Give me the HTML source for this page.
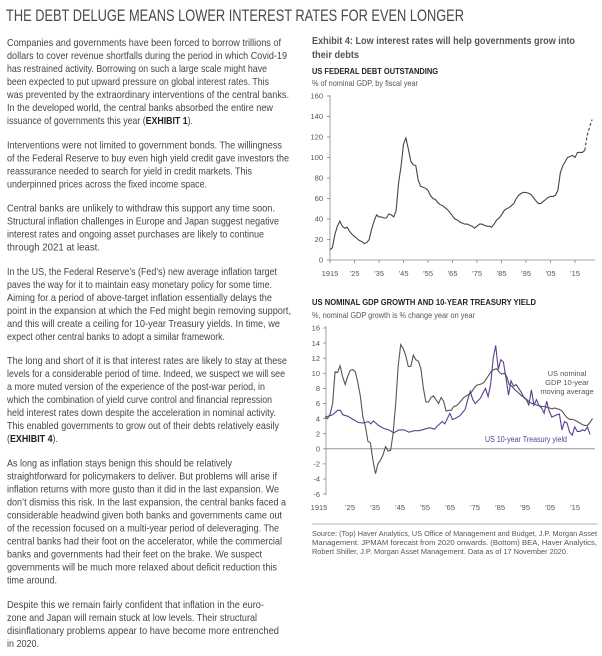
<!DOCTYPE html>
<html><head><meta charset="utf-8"><style>
html,body{margin:0;padding:0;background:#fff;width:602px;height:656px;overflow:hidden}
svg{display:block}
.b{font-family:"Liberation Sans",sans-serif;font-size:10.5px;fill:#454545}
.ax{font-family:"Liberation Sans",sans-serif;font-size:7.5px;fill:#555}
</style></head><body>
<svg width="602" height="656" xmlns="http://www.w3.org/2000/svg">
<text x="6" y="21" font-family="Liberation Sans,sans-serif" font-size="16.5" fill="#4a4a4a" textLength="458" lengthAdjust="spacingAndGlyphs">THE DEBT DELUGE MEANS LOWER INTEREST RATES FOR EVEN LONGER</text>
<g class="b" id="body"></g>
<text x="312" y="44" font-family="Liberation Sans,sans-serif" font-size="10.5" font-weight="bold" fill="#555" textLength="263" lengthAdjust="spacingAndGlyphs">Exhibit 4: Low interest rates will help governments grow into</text>
<text x="312" y="58" font-family="Liberation Sans,sans-serif" font-size="10.5" font-weight="bold" fill="#555" textLength="47" lengthAdjust="spacingAndGlyphs">their debts</text>
<text x="312" y="74" font-family="Liberation Sans,sans-serif" font-size="8" font-weight="bold" fill="#222" textLength="126" lengthAdjust="spacingAndGlyphs">US FEDERAL DEBT OUTSTANDING</text>
<text x="312" y="86" font-family="Liberation Sans,sans-serif" font-size="8" fill="#555" textLength="106" lengthAdjust="spacingAndGlyphs">% of nominal GDP, by fiscal year</text>
<g id="c1"></g>
<text x="312" y="305" font-family="Liberation Sans,sans-serif" font-size="8" font-weight="bold" fill="#222" textLength="224" lengthAdjust="spacingAndGlyphs">US NOMINAL GDP GROWTH AND 10-YEAR TREASURY YIELD</text>
<text x="312" y="318" font-family="Liberation Sans,sans-serif" font-size="8" fill="#555" textLength="163" lengthAdjust="spacingAndGlyphs">%, nominal GDP growth is % change year on year</text>
<g id="c2"></g>
<text x="567" y="376" class="ax" font-size="8" text-anchor="middle" fill="#555">US nominal</text>
<text x="567" y="385" class="ax" font-size="8" text-anchor="middle" fill="#555">GDP 10-year</text>
<text x="567" y="394" class="ax" font-size="8" text-anchor="middle" fill="#555">moving average</text>
<text x="485" y="442" font-family="Liberation Sans,sans-serif" font-size="8" fill="#5b3f8f" textLength="82" lengthAdjust="spacingAndGlyphs">US 10-year Treasury yield</text>
<line x1="312" y1="524" x2="597" y2="524" stroke="#999" stroke-width="0.8"/>
<text x="312" y="536" font-family="Liberation Sans,sans-serif" font-size="7.3" fill="#555" textLength="285" lengthAdjust="spacingAndGlyphs">Source: (Top) Haver Analytics, US Office of Management and Budget, J.P. Morgan Asset</text>
<text x="312" y="545" font-family="Liberation Sans,sans-serif" font-size="7.3" fill="#555" textLength="285" lengthAdjust="spacingAndGlyphs">Management. JPMAM forecast from 2020 onwards. (Bottom) BEA, Haver Analytics,</text>
<text x="312" y="554" font-family="Liberation Sans,sans-serif" font-size="7.3" fill="#555" textLength="256" lengthAdjust="spacingAndGlyphs">Robert Shiller, J.P. Morgan Asset Management. Data as of 17 November 2020.</text>
</svg>
<script>
var NS="http://www.w3.org/2000/svg";
function el(p,t,a,txt){var e=document.createElementNS(NS,t);for(var k in a)e.setAttribute(k,a[k]);if(txt!=null)e.textContent=txt;p.appendChild(e);return e;}
var paras=[
[["Companies and governments have been forced to borrow trillions of",281],["dollars to cover revenue shortfalls during the period in which Covid-19",287],["has restrained activity. Borrowing on such a large scale might have",267],["been expected to put upward pressure on global interest rates. This",269],["was prevented by the extraordinary interventions of the central banks.",289],["In the developed world, the central banks absorbed the entire new",273],["issuance of governments this year (<b>EXHIBIT 1</b>).",193]],
[["Interventions were not limited to government bonds. The willingness",282],["of the Federal Reserve to buy even high yield credit gave investors the",289],["reassurance needed to search for yield in credit markets. This",252],["underpinned prices across the fixed income space.",207]],
[["Central banks are unlikely to withdraw this support any time soon.",275],["Structural inflation challenges in Europe and Japan suggest negative",279],["interest rates and ongoing asset purchases are likely to continue",264],["through 2021 at least.",100]],
[["In the US, the Federal Reserve\u2019s (Fed\u2019s) new average inflation target",277],["paves the way for it to maintain easy monetary policy for some time.",272],["Aiming for a period of above-target inflation essentially delays the",272],["point in the expansion at which the Fed might begin removing support,",291],["and this will create a ceiling for 10-year Treasury yields. In time, we",280],["expect other central banks to adopt a similar framework.",225]],
[["The long and short of it is that interest rates are likely to stay at these",287],["levels for a considerable period of time. Indeed, we suspect we will see",285],["a more muted version of the experience of the post-war period, in",265],["which the combination of yield curve control and financial repression",272],["held interest rates down despite the acceleration in nominal activity.",276],["This enabled governments to grow out of their debts relatively easily",279],["(<b>EXHIBIT 4</b>).",58]],
[["As long as inflation stays benign this should be relatively",232],["straightforward for policymakers to deliver. But problems will arise if",277],["inflation returns with more gusto than it did in the last expansion. We",279],["don\u2019t dismiss this risk. In the last expansion, the central banks faced a",286],["considerable headwind given both banks and governments came out",282],["of the recession focused on a multi-year period of deleveraging. The",279],["central banks had their foot on the accelerator, while the commercial",282],["banks and governments had their feet on the brake. We suspect",262],["governments will be much more relaxed about deficit reduction this",277],["time around.",57]],
[["Despite this we remain fairly confident that inflation in the euro-",264],["zone and Japan will remain stuck at low levels. Their structural",257],["disinflationary problems appear to have become more entrenched",279],["in 2020.",39]]];
var g=document.getElementById("body"),y=46;
paras.forEach(function(p,i){if(i>0)y+=11.3;p.forEach(function(l){
var t=el(g,"text",{x:7,y:y.toFixed(1),textLength:l[1]-7,lengthAdjust:"spacingAndGlyphs"});
var parts=l[0].split(/<b>|<\/b>/);parts.forEach(function(s,j){el(t,"tspan",j==1?{"font-weight":"bold",fill:"#222"}:{},s);});
y+=13;});});
var c1=document.getElementById("c1");
function X1(yr){return 330+(yr-1915)*2.45;}function Y1(v){return 260-v*1.025;}
el(c1,"line",{x1:330,y1:95,x2:330,y2:263,stroke:"#888","stroke-width":0.8});
el(c1,"line",{x1:330,y1:260,x2:595,y2:260,stroke:"#888","stroke-width":0.8});
for(var v=0;v<=160;v+=20){el(c1,"line",{x1:327,y1:Y1(v),x2:330,y2:Y1(v),stroke:"#888","stroke-width":0.8});
el(c1,"text",{x:323,y:Y1(v)+2.7,"text-anchor":"end",class:"ax"},v);}
var lab=["1915","'25","'35","'45","'55","'65","'75","'85","'95","'05","'15"];
lab.forEach(function(s,i){var x=X1(1915+i*10);el(c1,"line",{x1:x,y1:260,x2:x,y2:263,stroke:"#888","stroke-width":0.8});el(c1,"text",{x:x,y:276,"text-anchor":"middle",class:"ax"},s.replace("'","\u2019"));});
var debt=[10,12,25,33,38,33,31,32,28,25,23,21,19,18,16,17,20,30,38,44,42,42,41,41,45,44,42,48,75,92,113,119,108,96,93,92,78,72,71,70,68,63,60,59,56,54,53,51,49,46,43,40,39,37,36,35,35,34,33,31,33,35,35,34,33,33,32,35,39,41,44,48,50,51,53,55,60,63,65,66,66,65,64,61,58,55,55,57,59,61,62,62,63,68,85,92,96,100,101,102,100,105,105,105,107];
var d="";debt.forEach(function(v,i){d+=(i?"L":"M")+X1(1915+i).toFixed(1)+","+Y1(v).toFixed(1);});
el(c1,"path",{d:d,fill:"none",stroke:"#444","stroke-width":1.1});
el(c1,"path",{d:"M"+X1(2019)+","+Y1(107)+"L"+X1(2020)+","+Y1(122)+"L"+X1(2021)+","+Y1(130)+"L"+X1(2022)+","+Y1(137),fill:"none",stroke:"#444","stroke-width":1.1,"stroke-dasharray":"3,2"});
var c2=document.getElementById("c2");
function X2(yr){return 325+(yr-1915)*2.5;}function Y2(v){return 448.8-v*7.55;}
el(c2,"line",{x1:326,y1:326,x2:326,y2:495,stroke:"#888","stroke-width":0.8});
el(c2,"line",{x1:326,y1:Y2(0),x2:595,y2:Y2(0),stroke:"#888","stroke-width":0.8});
for(var v=-6;v<=16;v+=2){el(c2,"line",{x1:323,y1:Y2(v),x2:326,y2:Y2(v),stroke:"#888","stroke-width":0.8});
el(c2,"text",{x:320,y:Y2(v)+2.7,"text-anchor":"end",class:"ax"},v<0?"-"+(-v):v);}
lab.forEach(function(s,i){var x=X2(1915+i*10);el(c2,"text",{x:i==0?x-6:x,y:510,"text-anchor":"middle",class:"ax"},s.replace("'","\u2019"));});
var gdp=[4.2,4.0,4.5,6,10.2,10.1,11,9.5,8.5,9.6,10.4,10.5,10.2,8.8,7,4.2,3,1,0.8,-1.5,-3.3,-2,-1.5,-0.8,0.3,-0.3,-0.2,2,6,11,13.8,13.3,12.3,10.9,10.9,12.4,11.8,11.6,10.6,8,6.2,6.2,6.8,7,6.5,6,6.8,6.3,5,5.1,5.1,5.6,5.7,6,6.4,6.8,7,7.2,7.5,8,8.4,8.5,8.6,8.8,9.3,9.8,10.3,10.5,10.6,10.2,9.9,10,9.6,8.5,8.3,7.9,7.6,7.3,7,6.8,6.5,6.2,6,5.9,5.8,5.7,5.6,5.6,5.5,5.4,5.3,5.4,5.3,5.2,5.0,4.5,4.1,3.9,3.9,3.8,3.6,3.4,3.2,3.1,3.1,3.5,4.0];
d="";gdp.forEach(function(v,i){d+=(i?"L":"M")+X2(1915+i*107/(gdp.length-1)).toFixed(1)+","+Y2(v).toFixed(1);});
el(c2,"path",{d:d,fill:"none",stroke:"#555","stroke-width":1.1});
var ty=[[1915,4.2],[1918,4.5],[1920,5.1],[1921,5.1],[1922,4.5],[1924,4.3],[1926,3.9],[1928,3.5],[1930,3.4],[1932,3.6],[1933,3.3],[1934,3.7],[1936,3.1],[1938,2.7],[1940,2.5],[1942,2.1],[1944,2.5],[1946,2.5],[1948,2.2],[1950,2.4],[1952,2.4],[1954,2.6],[1956,2.8],[1958,2.6],[1959,3.0],[1961,3.6],[1962,3.3],[1964,4.7],[1965,3.9],[1966,4.0],[1968,4.4],[1970,5.2],[1971,6.5],[1972,7.6],[1973,6.5],[1974,6.0],[1976,6.7],[1977,7.4],[1978,8.0],[1979,6.9],[1980,8.5],[1981,12],[1982,13.7],[1983,10.5],[1984,11.8],[1985,11.5],[1986,9.5],[1987,7.1],[1988,9],[1989,8.3],[1990,8.5],[1991,8],[1992,7.5],[1993,6.8],[1994,6.5],[1995,5.8],[1996,7.8],[1997,5.8],[1998,6.5],[1999,5.7],[2000,5.4],[2001,4.7],[2002,6.3],[2003,5.0],[2004,4.2],[2006,4.5],[2007,4.6],[2008,2.5],[2009,3.6],[2010,3.4],[2011,2.2],[2012,1.8],[2013,2.9],[2014,2.3],[2015,2.3],[2016,2.5],[2017,2.4],[2018,2.9],[2019,1.9]];
d="";ty.forEach(function(p,i){var yr=1915+(p[0]-1915)*106/104;d+=(i?"L":"M")+X2(yr).toFixed(1)+","+Y2(p[1]).toFixed(1);});
el(c2,"path",{d:d,fill:"none",stroke:"#5b3f8f","stroke-width":1.1});
</script>
</body></html>
